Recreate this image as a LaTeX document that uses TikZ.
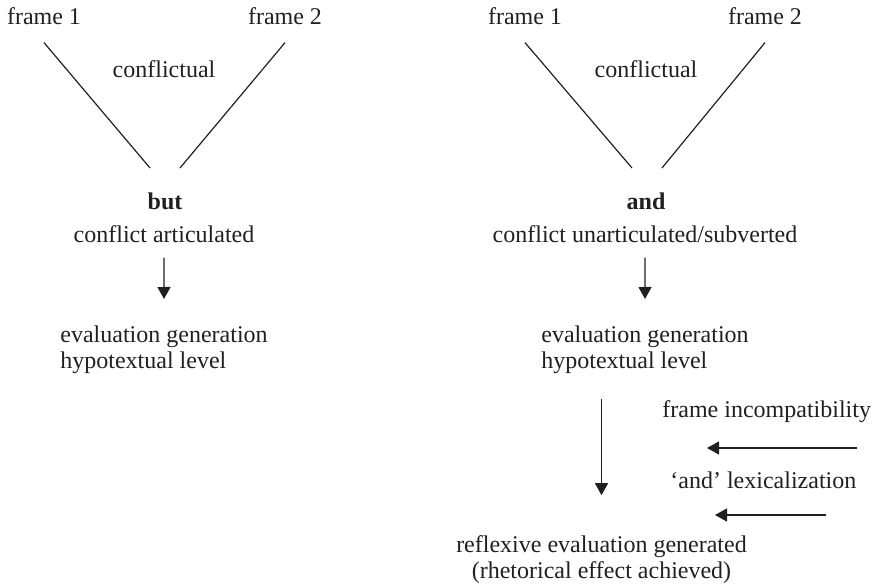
\documentclass[tikz,border=0pt]{standalone}
\usepackage{fontspec}
\setmainfont{Liberation Serif}
\usetikzlibrary{arrows.meta}

\definecolor{ink-color}{HTML}{231F20}

\begin{document}
\begin{tikzpicture}[
x=0.5pt, y=-0.5pt,
text-node/.style={inner sep=0pt, text=ink-color, font=\fontsize{12}{12.8}\selectfont},
frame-node/.style={text-node, inner ysep=8.5pt},
flow/.style={draw=ink-color, line width=0.6pt, -{Triangle[width=6.5pt,length=6pt]}},
link/.style={draw=ink-color, line width=0.6pt}]
\tikzstyle{every node}=[text-node]

\useasboundingbox (0,0) rectangle (878,588);

% left side: but
\node (F1L) [frame-node, anchor=base] at (44,25) {frame 1};
\node (F2L) [frame-node, anchor=base] at (285,25) {frame 2};
\node (ConfL) [anchor=base] at (164,78) {conflictual};
\node (But) [anchor=base] at (165,210) {\textbf{but}};
\node (Art) [anchor=base] at (164,243) {conflict articulated};
\node (EvalL) [anchor=north west, align=left] at (60,325.6) {evaluation generation\\hypotextual level};
\coordinate (ButIn1) at (150,168);
\coordinate (ButIn2) at (180,168);
\draw[link] (F1L.south) -- (ButIn1);
\draw[link] (F2L.south) -- (ButIn2);
\draw[flow, shorten <=7pt, shorten >=13.3pt] (Art.south) -- (EvalL.north);
%
% right side: and
\node (F1R) [frame-node, anchor=base] at (525,25) {frame 1};
\node (F2R) [frame-node, anchor=base] at (765,25) {frame 2};
\node (ConfR) [anchor=base] at (646,78) {conflictual};
\node (And) [anchor=base] at (646,210) {\textbf{and}};
\node (Unart) [anchor=base] at (645,243) {conflict unarticulated/subverted};
\node (EvalR) [anchor=north west, align=left] at (541,325.6) {evaluation generation\\hypotextual level};
\node (Incomp) [anchor=base west] at (662,417) {frame incompatibility};
\node (Lex) [anchor=base west] at (670,488) {`and' lexicalization};
\node (Refl) [anchor=north, align=center] at (601.5,535.6) {reflexive evaluation generated\\(rhetorical effect achieved)};
\coordinate (AndIn1) at (632,168);
\coordinate (AndIn2) at (662,168);
\coordinate (IncompFrom) at (857,448);
\coordinate (IncompTo) at (707,448);
\coordinate (LexFrom) at (826,515);
\coordinate (LexTo) at (715,515);
\draw[link] (F1R.south) -- (AndIn1);
\draw[link] (F2R.south) -- (AndIn2);
\draw[flow, shorten <=7pt, shorten >=13.3pt] (Unart.south) -- (EvalR.north);
\draw[flow, shorten <=12.6pt, shorten >=20.2pt] (EvalR.south -| Refl.north) -- (Refl.north);
\draw[flow] (IncompFrom) -- (IncompTo);
\draw[flow] (LexFrom) -- (LexTo);

\end{tikzpicture}
\end{document}
